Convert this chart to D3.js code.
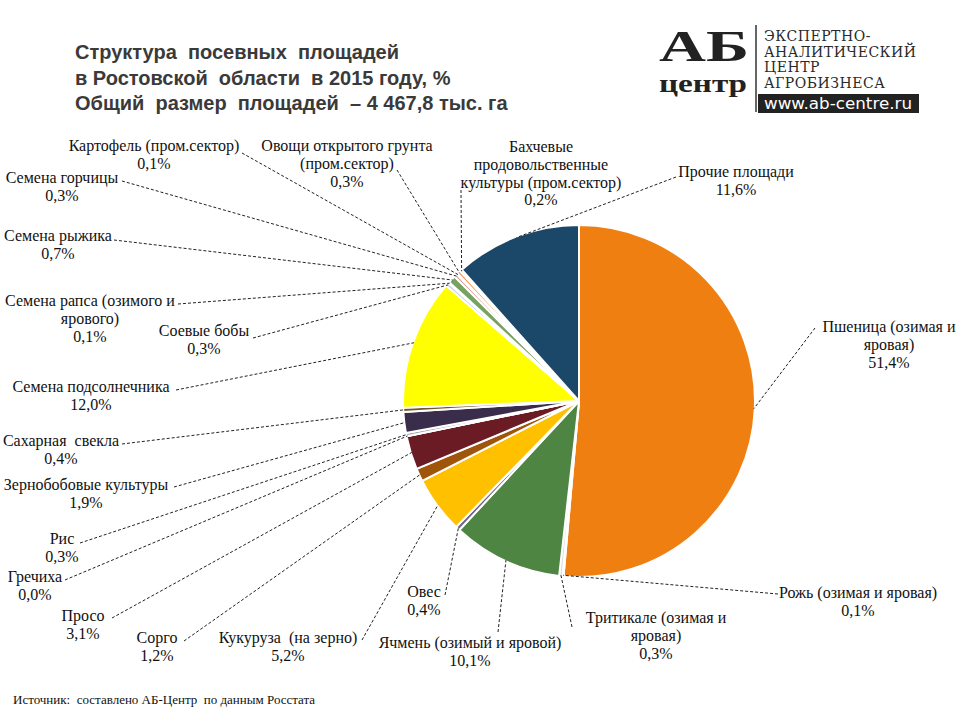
<!DOCTYPE html>
<html><head><meta charset="utf-8">
<script src="https://cdn.jsdelivr.net/npm/d3@7"></script>
<style>body{margin:0;background:#fff}svg{display:block}</style>
</head><body>
<svg id="c" width="960" height="720"></svg>
<script>
// ---- data ----
const categories = [
  "Пшеница (озимая и\nяровая)", "Рожь (озимая и яровая)", "Тритикале (озимая и\nяровая)",
  "Ячмень (озимый и яровой)", "Овес", "Кукуруза  (на зерно)", "Сорго", "Просо", "Гречиха", "Рис",
  "Зернобобовые культуры", "Сахарная  свекла", "Семена подсолнечника", "Соевые бобы",
  "Семена рапса (озимого и\nярового)", "Семена рыжика", "Семена горчицы",
  "Картофель (пром.сектор)", "Овощи открытого грунта\n(пром.сектор)",
  "Бахчевые\nпродовольственные\nкультуры (пром.сектор)", "Прочие площади"
];
const values = [51.4, 0.1, 0.3, 10.1, 0.4, 5.2, 1.2, 3.1, 0.0, 0.3, 1.9, 0.4, 12.0, 0.3, 0.1, 0.7, 0.3, 0.1, 0.3, 0.2, 11.6];
const colors = ["#ef7f11", "#9dc3e6", "#d9d9d9", "#4e8543", "#6f6488", "#ffc000", "#a0560a", "#6a1b24",
  "#c00000", "#a6a6a6", "#3a2c4b", "#6e5a2c", "#ffff00", "#b9cde5", "#e6b9b8", "#77a262", "#d99694",
  "#c0504d", "#f79646", "#948a54", "#1b4869"];
const titleLines = ["Структура  посевных  площадей", "в Ростовской  области  в 2015 году, %", "Общий  размер  площадей  – 4 467,8 тыс. га"];
const sourceText = "Источник:  составлено АБ-Центр  по данным Росстата";

// ---- label layout (cx, first baseline, leader start) ----
const labelLayout = [
  [889, 332, 815, 328], [858, 598, 778, 594], [656, 623, 572, 627], [470, 648, 498, 632],
  [424, 597, 445, 595], [288, 643, 362, 640], [157, 643, 184, 641], [83, 621, 112, 618],
  [35, 582, 65, 580], [62, 544, 80, 543], [86, 490, 174, 487], [61, 446, 122, 444],
  [91, 392, 176, 390], [204, 336, 253, 338], [90, 306, 178, 304], [58, 241, 114, 240],
  [62, 183, 122, 181], [154, 151, 242, 153], [347, 151, 397, 170], [541, 152, 461, 190],
  [736, 177, 676, 177]
];

const svg = d3.select("#c");
const cx = 579, cy = 401, R = 176;
const fmt = v => d3.format(".1f")(v).replace(".", ",") + "%";

const data = categories.map((c, i) => ({name: c, value: values[i], color: colors[i], lay: labelLayout[i]}));
const pie = d3.pie().sort(null).value(d => d.value).startAngle(0).endAngle(2 * Math.PI);
const arcs = pie(data);
const arc = d3.arc().innerRadius(0).outerRadius(R);

const g = svg.append("g").attr("transform", `translate(${cx},${cy})`);
g.selectAll("path.slice").data(arcs).join("path")
  .attr("class", "slice")
  .attr("d", arc)
  .attr("fill", d => d.data.color)
  .attr("stroke", "#fff").attr("stroke-width", 2).attr("stroke-linejoin", "round");

// leader lines
svg.append("g").selectAll("line").data(arcs).join("line")
  .attr("x1", d => d.data.lay[2]).attr("y1", d => d.data.lay[3])
  .attr("x2", d => { const a = (d.startAngle + d.endAngle) / 2; return cx + (R - 1) * Math.sin(a); })
  .attr("y2", d => { const a = (d.startAngle + d.endAngle) / 2; return cy - (R - 1) * Math.cos(a); })
  .attr("stroke", "#222").attr("stroke-width", 1).attr("stroke-dasharray", "3,2");

// labels
const lg = svg.append("g").attr("font-family", "'Liberation Serif', 'Times New Roman', serif")
  .attr("font-size", 16).attr("fill", "#111").attr("text-anchor", "middle");
data.forEach(d => {
  const lines = d.name.split("\n").concat([fmt(d.value)]);
  const t = lg.append("text").attr("x", d.lay[0]).attr("y", d.lay[1]).attr("xml:space", "preserve");
  lines.forEach((l, k) => t.append("tspan").attr("x", d.lay[0]).attr("dy", k ? 17.8 : 0).text(l));
});

// title
const tt = svg.append("text").attr("x", 75).attr("y", 59)
  .attr("font-family", "'Liberation Sans', Arial, sans-serif").attr("font-weight", "bold")
  .attr("font-size", 20).attr("fill", "#3a3a3a").attr("xml:space", "preserve");
titleLines.forEach((l, k) => tt.append("tspan").attr("x", 75).attr("dy", k ? 25.5 : 0).text(l));

// logo
const logo = svg.append("g");
logo.append("text").attr("text-anchor", "middle").attr("x", 704).attr("y", 61)
  .attr("font-family", "'Liberation Serif', serif").attr("font-weight", "bold").attr("fill", "#222")
  .attr("font-size", 44).attr("textLength", 90).attr("lengthAdjust", "spacingAndGlyphs").text("АБ");
logo.append("text").attr("text-anchor", "middle").attr("x", 703).attr("y", 92)
  .attr("font-family", "'Liberation Serif', serif").attr("font-weight", "bold").attr("fill", "#222")
  .attr("font-size", 26).attr("textLength", 88).attr("lengthAdjust", "spacingAndGlyphs").text("центр");
logo.append("line").attr("x1", 756).attr("x2", 756).attr("y1", 25).attr("y2", 112)
  .attr("stroke", "#333").attr("stroke-width", 1.5);
const lt = ["ЭКСПЕРТНО-", "АНАЛИТИЧЕСКИЙ", "ЦЕНТР", "АГРОБИЗНЕСА"];
lt.forEach((l, k) => logo.append("text").attr("x", 764).attr("y", 41 + k * 15.5)
  .attr("font-family", "'DejaVu Serif', serif").attr("font-size", 14).attr("fill", "#2a2a2a")
  .attr("letter-spacing", 0.5).text(l));
logo.append("rect").attr("x", 758).attr("y", 94).attr("width", 161).attr("height", 19).attr("fill", "#222");
logo.append("text").attr("x", 838).attr("y", 109).attr("text-anchor", "middle")
  .attr("font-family", "'DejaVu Sans', sans-serif").attr("font-size", 15).attr("fill", "#fff")
  .attr("textLength", 148).attr("lengthAdjust", "spacingAndGlyphs").text("www.ab-centre.ru");

// source
svg.append("text").attr("x", 13).attr("y", 704).attr("xml:space", "preserve")
  .attr("font-family", "'Liberation Serif', serif").attr("font-size", 13).attr("fill", "#111")
  .text(sourceText);
</script>
</body></html>
